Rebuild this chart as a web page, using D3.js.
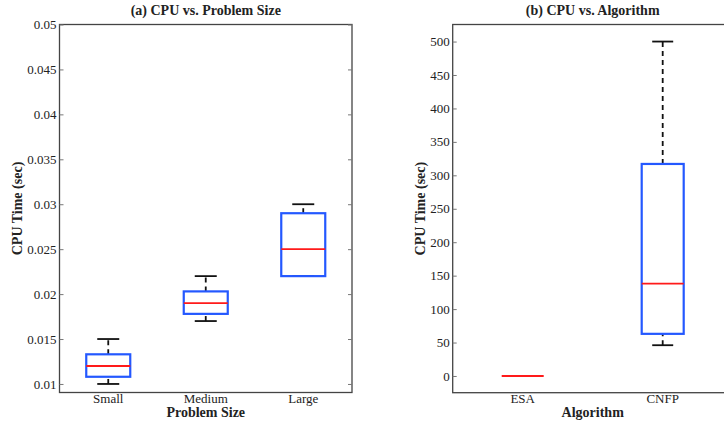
<!DOCTYPE html>
<html>
<head>
<meta charset="utf-8">
<script src="https://cdn.jsdelivr.net/npm/d3@7"></script>
<style>
  body { margin: 0; background: #fff; }
  svg text { font-family: "Liberation Serif", "Times New Roman", "DejaVu Serif", serif; }
</style>
</head>
<body>
<div class="container"></div>
<script>
// panel (a) data
var sizeCats = ["Small", "Medium", "Large"];
var sizeLow = [0.010, 0.017, 0.022];
var sizeQ1 = [0.0108, 0.0178, 0.022];
var sizeMed = [0.012, 0.019, 0.025];
var sizeQ3 = [0.0133, 0.0203, 0.029];
var sizeHigh = [0.015, 0.022, 0.030];
var sizeTicks = [0.01, 0.015, 0.02, 0.025, 0.03, 0.035, 0.04, 0.045, 0.05];

// panel (b) data
var algCats = ["ESA", "CNFP"];
var algLow = [0, 46];
var algQ1 = [0, 63];
var algMed = [0, 138];
var algQ3 = [0, 317];
var algHigh = [0, 500];
var algTicks = [0, 50, 100, 150, 200, 250, 300, 350, 400, 450, 500];

var FONT = '"Liberation Serif", "Times New Roman", serif';

var svg = d3.select('.container')
  .append('svg').attr('width', 724).attr('height', 422);

var drawPanel = function(opt) {
  var x = d3.scalePoint().domain(opt.cats).range([opt.left, opt.right]).padding(0.5);
  var y = d3.scaleLinear().domain(opt.domain).range([opt.bottom, opt.top]);
  var g = svg.append('g');

  var rows = opt.cats.map(function(c, i) {
    return { cat: c, lo: opt.lo[i], q1: opt.q1[i], med: opt.med[i], q3: opt.q3[i], hi: opt.hi[i] };
  });

  // frame
  g.append('rect')
    .attr('x', opt.left).attr('y', opt.top)
    .attr('width', opt.right - opt.left).attr('height', opt.bottom - opt.top)
    .attr('fill', 'none').attr('stroke', '#444').attr('stroke-width', 1.3);

  // y ticks, inward on both sides
  g.append('g').attr('transform', 'translate(' + opt.left + ',0)')
    .call(d3.axisRight(y).tickValues(opt.ticks).tickSize(4).tickFormat(function() { return ''; }))
    .call(function(s) { s.select('.domain').remove(); s.selectAll('line').attr('stroke', '#777'); });
  g.append('g').attr('transform', 'translate(' + opt.right + ',0)')
    .call(d3.axisLeft(y).tickValues(opt.ticks).tickSize(4).tickFormat(function() { return ''; }))
    .call(function(s) { s.select('.domain').remove(); s.selectAll('line').attr('stroke', '#777'); });

  g.selectAll('.ylab').data(opt.ticks).enter().append('text')
    .attr('x', opt.left - 3).attr('y', function(d) { return y(d); })
    .attr('dy', '0.35em').attr('text-anchor', 'end')
    .attr('font-family', FONT).attr('font-size', 13).attr('fill', '#222')
    .text(opt.fmt);

  // x labels
  g.selectAll('.xlab').data(opt.cats).enter().append('text')
    .attr('x', function(d) { return x(d); }).attr('y', 403)
    .attr('text-anchor', 'middle').attr('font-family', FONT).attr('font-size', 13).attr('fill', '#222')
    .text(function(d) { return d; });

  var bw = opt.boxW;

  // whiskers
  g.selectAll('.wlo').data(rows).enter().append('line')
    .attr('x1', function(d) { return x(d.cat); }).attr('x2', function(d) { return x(d.cat); })
    .attr('y1', function(d) { return y(d.lo); }).attr('y2', function(d) { return y(d.q1); })
    .attr('stroke', '#111').attr('stroke-width', 1.8).attr('stroke-dasharray', '5,4');
  g.selectAll('.whi').data(rows).enter().append('line')
    .attr('x1', function(d) { return x(d.cat); }).attr('x2', function(d) { return x(d.cat); })
    .attr('y1', function(d) { return y(d.q3); }).attr('y2', function(d) { return y(d.hi); })
    .attr('stroke', '#111').attr('stroke-width', 1.8).attr('stroke-dasharray', '5,4');

  // caps
  ['lo', 'hi'].forEach(function(k) {
    g.selectAll('.cap' + k).data(rows).enter().append('line')
      .attr('x1', function(d) { return x(d.cat) - bw / 4; }).attr('x2', function(d) { return x(d.cat) + bw / 4; })
      .attr('y1', function(d) { return y(d[k]); }).attr('y2', function(d) { return y(d[k]); })
      .attr('stroke', '#111').attr('stroke-width', 1.8);
  });

  // boxes
  g.selectAll('.box').data(rows).enter().append('rect')
    .attr('x', function(d) { return x(d.cat) - bw / 2; })
    .attr('y', function(d) { return y(d.q3); })
    .attr('width', bw)
    .attr('height', function(d) { return y(d.q1) - y(d.q3); })
    .attr('fill', 'none').attr('stroke', '#2458ff').attr('stroke-width', 2.2);

  // medians
  g.selectAll('.med').data(rows).enter().append('line')
    .attr('x1', function(d) { return x(d.cat) - bw / 2; }).attr('x2', function(d) { return x(d.cat) + bw / 2; })
    .attr('y1', function(d) { return y(d.med); }).attr('y2', function(d) { return y(d.med); })
    .attr('stroke', '#ff1a1a').attr('stroke-width', 1.8);

  // titles
  var cx = (opt.left + opt.right) / 2;
  g.append('text').attr('x', cx).attr('y', 15)
    .attr('text-anchor', 'middle').attr('font-family', FONT).attr('font-size', 14)
    .attr('font-weight', 'bold').attr('fill', '#222')
    .text(opt.title);
  g.append('text').attr('x', cx).attr('y', 417)
    .attr('text-anchor', 'middle').attr('font-family', FONT).attr('font-size', 14)
    .attr('font-weight', 'bold').attr('fill', '#222')
    .text(opt.xTitle);
  g.append('text')
    .attr('transform', 'translate(' + opt.yTitleX + ',' + ((opt.top + opt.bottom) / 2) + ') rotate(-90)')
    .attr('text-anchor', 'middle').attr('font-family', FONT).attr('font-size', 14)
    .attr('font-weight', 'bold').attr('fill', '#222')
    .text('CPU Time (sec)');
};

drawPanel({
  cats: sizeCats, lo: sizeLow, q1: sizeQ1, med: sizeMed, q3: sizeQ3, hi: sizeHigh,
  ticks: sizeTicks, domain: [0.00905, 0.05],
  fmt: function(d) { return String(+d.toFixed(3)); },
  left: 59.5, right: 352, top: 24.5, bottom: 392.5, boxW: 44,
  title: '(a) CPU vs. Problem Size', xTitle: 'Problem Size', yTitleX: 22
});

drawPanel({
  cats: algCats, lo: algLow, q1: algQ1, med: algMed, q3: algQ3, hi: algHigh,
  ticks: algTicks, domain: [-25, 525.5],
  fmt: function(d) { return String(d); },
  left: 452.7, right: 732.7, top: 24.5, bottom: 392.7, boxW: 42,
  title: '(b) CPU vs. Algorithm', xTitle: 'Algorithm', yTitleX: 425
});
</script>
</body>
</html>
